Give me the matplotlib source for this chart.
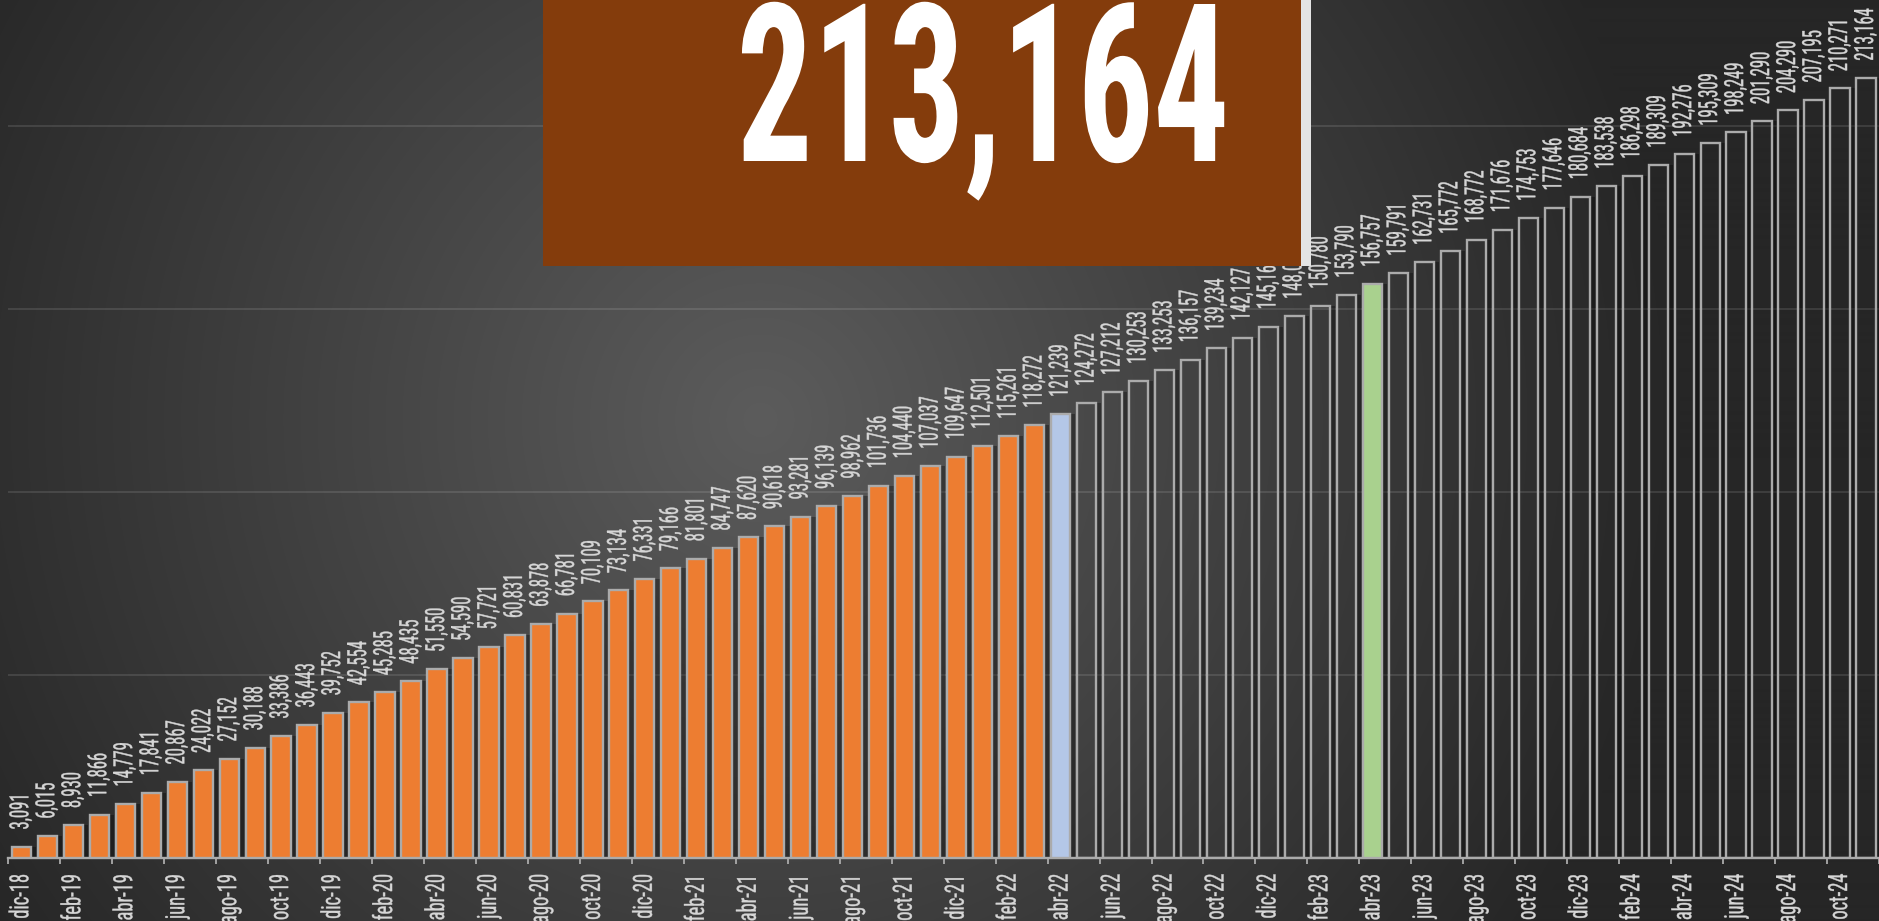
import numpy as np
import matplotlib
matplotlib.use('Agg')
import matplotlib.pyplot as plt
from matplotlib import font_manager
from matplotlib.patches import Rectangle
from matplotlib.patheffects import AbstractPathEffect
from matplotlib.transforms import Affine2D
from matplotlib.path import Path

# ---------------- data ----------------
categories = [
    'dic-18',
    'ene-19', 'feb-19', 'mar-19', 'abr-19', 'may-19', 'jun-19', 'jul-19', 'ago-19', 'sep-19', 'oct-19', 'nov-19', 'dic-19',
    'ene-20', 'feb-20', 'mar-20', 'abr-20', 'may-20', 'jun-20', 'jul-20', 'ago-20', 'sep-20', 'oct-20', 'nov-20', 'dic-20',
    'ene-21', 'feb-21', 'mar-21', 'abr-21', 'may-21', 'jun-21', 'jul-21', 'ago-21', 'sep-21', 'oct-21', 'nov-21', 'dic-21',
    'ene-22', 'feb-22', 'mar-22', 'abr-22', 'may-22', 'jun-22', 'jul-22', 'ago-22', 'sep-22', 'oct-22', 'nov-22', 'dic-22',
    'ene-23', 'feb-23', 'mar-23', 'abr-23', 'may-23', 'jun-23', 'jul-23', 'ago-23', 'sep-23', 'oct-23', 'nov-23', 'dic-23',
    'ene-24', 'feb-24', 'mar-24', 'abr-24', 'may-24', 'jun-24', 'jul-24', 'ago-24', 'sep-24', 'oct-24', 'nov-24',
]

values = [
    3091, 6015, 8930, 11866, 14779, 17841, 20867, 24022, 27152, 30188,
    33386, 36443, 39752, 42554, 45285, 48435, 51550, 54590, 57721, 60831,
    63878, 66781, 70109, 73134, 76331, 79166, 81801, 84747, 87620, 90618,
    93281, 96139, 98962, 101736, 104440, 107037, 109647, 112501, 115261, 118272,
    121239,
    124272, 127212, 130253, 133253, 136157, 139234, 142127, 145163, 148004, 150780, 153790,
    156757,
    159791, 162731, 165772, 168772, 171676, 174753, 177646, 180684, 183538, 186298,
    189309, 192276, 195309, 198249, 201290, 204290, 207195, 210271, 213164,
]

last_actual = 'mar-22'     # orange bars up to here
marker_blue = 'abr-22'
marker_green = 'abr-23'

# ---------------- fonts ----------------
avail = {f.name for f in font_manager.fontManager.ttflist}
narrow = next((f for f in ['Liberation Sans Narrow', 'Roboto Condensed',
                           'Open Sans Condensed', 'DejaVu Sans Condensed']
               if f in avail), 'DejaVu Sans')


class Condense(AbstractPathEffect):
    """Squeeze the rendered glyph outline of a text along one display axis."""

    def __init__(self, sx=1.0, sy=1.0, anchor='xcenter', stroke=0.0):
        super().__init__()
        self.sx, self.sy, self.anchor, self.stroke = sx, sy, anchor, stroke

    def draw_path(self, renderer, gc, tpath, affine, rgbFace=None):
        v = tpath.vertices
        if tpath.codes is not None:
            v = v[tpath.codes != Path.CLOSEPOLY]
        if len(v):
            d = affine.transform(v)
            x0, y0 = d.min(0)
            x1, y1 = d.max(0)
        else:
            x0 = y0 = x1 = y1 = 0
        if self.anchor == 'ymin':
            cx, cy = (x0 + x1) / 2, y0
        elif self.anchor == 'ymax':
            cx, cy = (x0 + x1) / 2, y1
        else:
            cx, cy = (x0 + x1) / 2, (y0 + y1) / 2
        extra = Affine2D().translate(-cx, -cy).scale(self.sx, self.sy).translate(cx, cy)
        if self.stroke > 0 and rgbFace is not None:
            gc2 = renderer.new_gc()
            gc2.copy_properties(gc)
            gc2.set_linewidth(self.stroke)
            gc2.set_foreground(rgbFace)
            renderer.draw_path(gc2, tpath, affine + extra, rgbFace)
            gc2.restore()
        else:
            renderer.draw_path(gc, tpath, affine + extra, rgbFace)


W, H = 1879, 921
fig = plt.figure(figsize=(W / 100, H / 100), dpi=100)

# ---------------- background gradient ----------------
bg = fig.add_axes([0, 0, 1, 1], zorder=0)
yy, xx = np.mgrid[0:H, 0:W]
cx, cy, R = 760.0, 420.0, 920.0
r = np.clip(np.sqrt((xx - cx) ** 2 + (yy - cy) ** 2) / R, 0, 1)
c_in, c_out = 0x5c / 255, 0x26 / 255
g = c_in + (c_out - c_in) * r
bg.imshow(np.dstack([g, g, g]), extent=[0, W, H, 0], aspect='auto')
bg.set_axis_off()

# ---------------- main chart ----------------
left_px, bottom_px = 8.3, 858
ax = fig.add_axes([left_px / W, (H - bottom_px) / H, 1 - left_px / W, bottom_px / H], zorder=1)
ax.patch.set_alpha(0)

n = len(values)
x = np.arange(n)
i_act = categories.index(last_actual)
i_blue = categories.index(marker_blue)
i_green = categories.index(marker_green)

face = []
for i in range(n):
    if i <= i_act:
        face.append('#ED7D31')
    elif i == i_blue:
        face.append('#B4C7E7')
    elif i == i_green:
        face.append('#A9D18E')
    else:
        face.append('none')

bw = 0.74
edge = '#ababab'
# shadows
ax.bar(x + bw / 2 + 0.1, values, width=0.2, color='black', alpha=0.32, zorder=2, linewidth=0)
ax.bar(x, values, width=bw, color=face, edgecolor=edge, linewidth=1.7, zorder=3)

lbl_fx = [Condense(sy=0.63, anchor='ymin', stroke=0.3)]
for xi, v in zip(x, values):
    ax.annotate(f'{v:,}', (xi, v), xytext=(0, 12), textcoords='offset points',
                rotation=90, ha='center', va='bottom', fontsize=19,
                color='#d6d6d6', family=narrow, zorder=4, annotation_clip=False,
                path_effects=lbl_fx)

ymax = bottom_px / 183 * 50000
ax.set_ylim(0, ymax)
ax.set_xlim(-0.5, n - 0.5)
ax.set_yticks([50000, 100000, 150000, 200000])
ax.yaxis.grid(True, color='white', alpha=0.12, linewidth=1.3)
ax.set_axisbelow(True)
ax.tick_params(axis='y', left=False, labelleft=False)

ax.set_xticks(x[::2])
ax.set_xticklabels(categories[::2], rotation=90, fontsize=19, color='#d6d6d6', family=narrow)
for t in ax.get_xticklabels():
    t.set_path_effects([Condense(sy=0.7, anchor='ymax', stroke=0.3)])
ax.set_xticks(np.arange(-0.5, n, 2), minor=True)
ax.tick_params(axis='x', which='major', length=0, pad=11)
ax.tick_params(axis='x', which='minor', length=4, width=1.3, color=edge, direction='out')

for s in ['top', 'right', 'left']:
    ax.spines[s].set_visible(False)
ax.spines['bottom'].set_color(edge)
ax.spines['bottom'].set_linewidth(1.7)

# ---------------- highlight box ----------------
ov = fig.add_axes([0, 0, 1, 1], zorder=5)
ov.patch.set_alpha(0)
ov.set_xlim(0, W)
ov.set_ylim(H, 0)
ov.set_axis_off()
ov.add_patch(Rectangle((543, 0), 758, 266, facecolor='#843C0C', edgecolor='none'))
ov.add_patch(Rectangle((1301, 0), 10, 266, facecolor='#e4e4e4', edgecolor='none'))
ov.text(983, 161, f'{values[-1]:,}', ha='center', va='baseline', fontsize=159,
        fontweight='bold', color='white', family=narrow,
        path_effects=[Condense(sx=0.68, anchor='xcenter')])

fig.savefig('out.png', dpi=100)
